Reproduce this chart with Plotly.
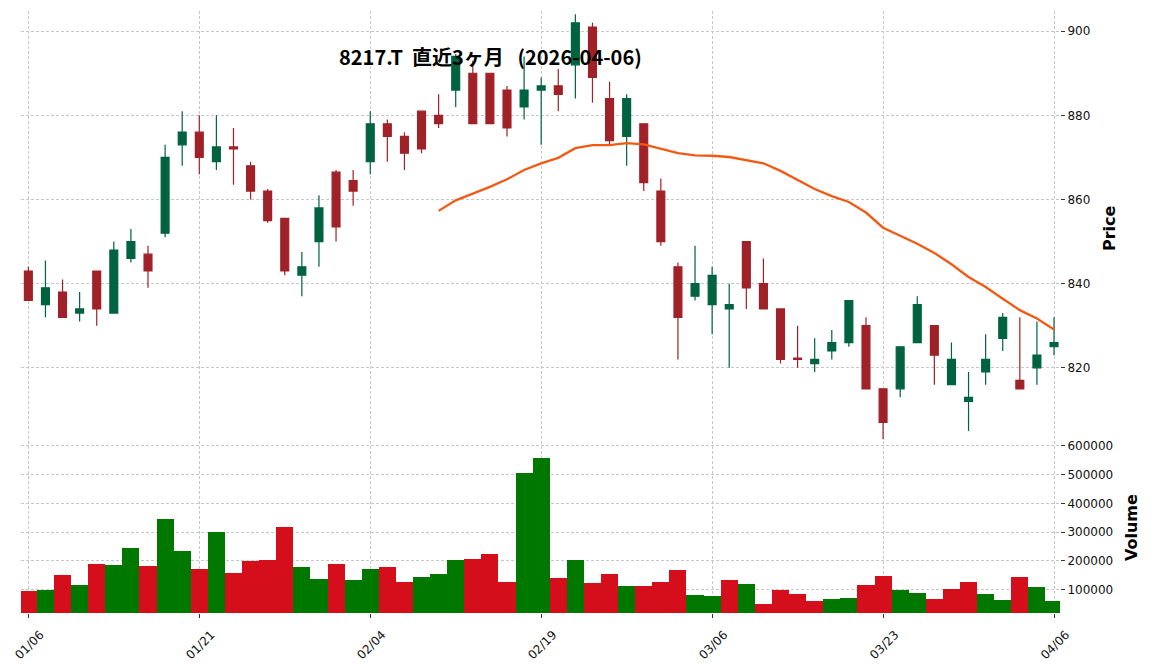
import plotly.graph_objects as go
from plotly.subplots import make_subplots

dates = [
    "2026-01-06", "2026-01-07", "2026-01-08", "2026-01-09", "2026-01-13", "2026-01-14",
    "2026-01-15", "2026-01-16", "2026-01-19", "2026-01-20", "2026-01-21", "2026-01-22",
    "2026-01-23", "2026-01-26", "2026-01-27", "2026-01-28", "2026-01-29", "2026-01-30",
    "2026-02-02", "2026-02-03", "2026-02-04", "2026-02-05", "2026-02-06", "2026-02-09",
    "2026-02-10", "2026-02-12", "2026-02-13", "2026-02-16", "2026-02-17", "2026-02-18",
    "2026-02-19", "2026-02-20", "2026-02-24", "2026-02-25", "2026-02-26", "2026-02-27",
    "2026-03-02", "2026-03-03", "2026-03-04", "2026-03-05", "2026-03-06", "2026-03-09",
    "2026-03-10", "2026-03-11", "2026-03-12", "2026-03-13", "2026-03-16", "2026-03-17",
    "2026-03-18", "2026-03-19", "2026-03-23", "2026-03-24", "2026-03-25", "2026-03-26",
    "2026-03-27", "2026-03-30", "2026-03-31", "2026-04-01", "2026-04-02", "2026-04-03",
    "2026-04-06",
]

opens = [843, 835, 838, 833, 843, 833, 846, 847, 852, 873, 876, 869, 872.5, 868, 862, 855.5,
         842, 850, 866.5, 864.5, 869, 878, 875, 881, 880, 886, 890, 890, 886, 882, 886, 887,
         892, 901, 884, 875, 878, 862, 844, 837, 835, 834, 850, 840, 834, 822.3, 821, 824,
         826, 830, 815, 815, 826, 830, 816, 812, 819, 827, 817, 820, 825]
highs = [844, 845.5, 841, 838, 843, 850, 853, 849, 873, 881, 880, 880, 877, 869, 862.5, 855.5,
         847.5, 861, 867, 867, 881, 879, 876, 881, 885, 894.5, 893, 890, 887, 894, 889, 891,
         904, 902, 888, 885, 878, 865, 845, 849, 844, 840, 850, 846, 834, 830, 827, 829,
         836, 832, 815, 825, 837, 830, 826, 819, 828, 833, 832, 831, 832]
lows = [836, 832, 832, 831, 830, 833, 845, 839, 851, 868, 866, 867, 863.5, 860, 854.5, 842,
        837, 844, 850, 858.5, 866, 869, 867, 871, 877, 882, 878, 878, 875, 879, 873, 881,
        884, 883, 873, 868, 862, 849, 822, 836, 828, 820, 834, 834, 821, 820, 819, 822,
        825, 815, 803, 813, 826, 816, 816, 805, 816, 824, 815, 816, 823]
closes = [836, 839, 832, 834, 834, 848, 850, 843, 870, 876, 870, 872.5, 872, 862, 855, 843,
          844, 858, 853.5, 862, 878, 875, 871, 872, 878, 894, 878, 878, 877, 886, 887, 885,
          902, 889, 874, 884, 864, 850, 832, 840, 842, 835, 839, 834, 822, 822, 822, 826,
          836, 815, 807, 825, 835, 823, 822, 813, 822, 832, 815, 823, 826]
volumes = [95400, 98800, 150900, 116200, 189100, 185600, 244700, 182200, 345400, 234300,
           171800, 300200, 157900, 199500, 203000, 317600, 178700, 137000, 189100, 133600,
           171800, 178700, 126600, 144000, 154400, 203000, 206500, 223800, 126600, 505100,
           557200, 140500, 203000, 123100, 154400, 112700, 112700, 126600, 168300, 81500,
           78000, 133600, 119700, 50200, 98800, 85000, 60600, 67600, 71100, 116200,
           147500, 98800, 88400, 67600, 102300, 126600, 85000, 64100, 144000, 109300, 60600]
ma25 = [None] * 24 + [857.3, 859.8, 861.4, 863.0, 864.8, 867.0, 868.6, 869.9, 872.2, 872.9,
                      872.9, 873.4, 873.1, 872.1, 871.0, 870.5, 870.4, 870.1, 869.4, 868.6,
                      866.8, 864.6, 862.5, 860.8, 859.4, 856.9, 853.3, 851.4, 849.5, 847.3,
                      844.6, 841.6, 839.2, 836.4, 833.7, 831.7, 829.1]

title_text = "8217.T\u00a0\u00a0直近3ヶ月\u00a0\u00a0\u00a0(2026-04-06)"
tick_idx = list(range(0, len(dates), 10))
tick_vals = [dates[i] for i in tick_idx]
tick_text = [dates[i][5:7] + "/" + dates[i][8:10] for i in tick_idx]

UP_C, DN_C = "#006340", "#a02128"
VUP, VDN = "#007800", "#d40f1b"
vol_colors = []
for i in range(len(closes)):
    if i == 0:
        up = closes[i] > opens[i]
    else:
        up = closes[i] > closes[i - 1]
    vol_colors.append(VUP if up else VDN)

fig = make_subplots(rows=2, cols=1, shared_xaxes=True, vertical_spacing=0)

fig.add_trace(go.Candlestick(
    x=dates, open=opens, high=highs, low=lows, close=closes,
    increasing=dict(line=dict(color=UP_C, width=1.2), fillcolor=UP_C),
    decreasing=dict(line=dict(color=DN_C, width=1.2), fillcolor=DN_C),
    whiskerwidth=0, showlegend=False, name="Price"), row=1, col=1)
fig.add_trace(go.Scatter(
    x=dates, y=ma25, mode="lines", line=dict(color="#f25a14", width=2.3),
    showlegend=False, name="MA25", connectgaps=False), row=1, col=1)
fig.add_trace(go.Bar(
    x=dates, y=volumes, marker=dict(color=vol_colors, line=dict(width=0)),
    showlegend=False, name="Volume"), row=2, col=1)

grid = dict(showgrid=True, gridcolor="#c8c8c8", gridwidth=0.8, griddash="3px,2px",
            zeroline=False, showline=False)
tickfont = dict(family="DejaVu Sans", size=12, color="#111111")

xr = [-0.43, 60.35]
fig.update_xaxes(type="category", range=xr, tickmode="array", tickvals=tick_vals,
                 ticktext=tick_text, automargin=False, **grid)
fig.update_xaxes(showticklabels=False, ticks="", rangeslider_visible=False, row=1, col=1)
fig.update_xaxes(ticks="outside", ticklen=4, tickcolor="#333333", tickangle=-45,
                 tickfont=tickfont, ticklabelshift=12, ticklabelstandoff=5, row=2, col=1)

fig.update_yaxes(side="right", ticks="outside", ticklen=4, tickcolor="#333333",
                 tickfont=tickfont, automargin=False, **grid)
fig.update_yaxes(range=[802.6, 904.8], tickmode="array", tickvals=[820, 840, 860, 880, 900],
                 domain=[0.2857, 1.0], row=1, col=1)
fig.update_yaxes(range=[19100, 616300], tickmode="array",
                 tickvals=[100000, 200000, 300000, 400000, 500000, 600000],
                 ticktext=["100000", "200000", "300000", "400000", "500000", "600000"],
                 domain=[0.0, 0.2857], row=2, col=1)

# page body has an 8px default margin; shrink figure so the plot area lands where the reference has it
fig.update_layout(
    width=1144, height=662,
    margin=dict(l=13, r=92, t=3, b=57, autoexpand=False),
    paper_bgcolor="white", plot_bgcolor="white",
    bargap=0, boxgap=0.34,
    font=dict(family="DejaVu Sans", size=12, color="#111111"),
    annotations=[
        dict(text=title_text, xref="paper", yref="paper", x=0.452, y=0.9252,
             xanchor="center", yanchor="middle", showarrow=False,
             font=dict(family="Noto Sans CJK JP", size=20, color="#000000", weight="bold")),
        dict(text="Price", xref="paper", yref="paper", x=1.0472, y=0.6395,
             xanchor="center", yanchor="middle", showarrow=False, textangle=-90,
             font=dict(family="DejaVu Sans", size=16, color="#000000", weight="bold")),
        dict(text="Volume", xref="paper", yref="paper", x=1.0693, y=0.1412,
             xanchor="center", yanchor="middle", showarrow=False, textangle=-90,
             font=dict(family="DejaVu Sans", size=16, color="#000000", weight="bold")),
    ],
)

fig.write_html("out.html")
